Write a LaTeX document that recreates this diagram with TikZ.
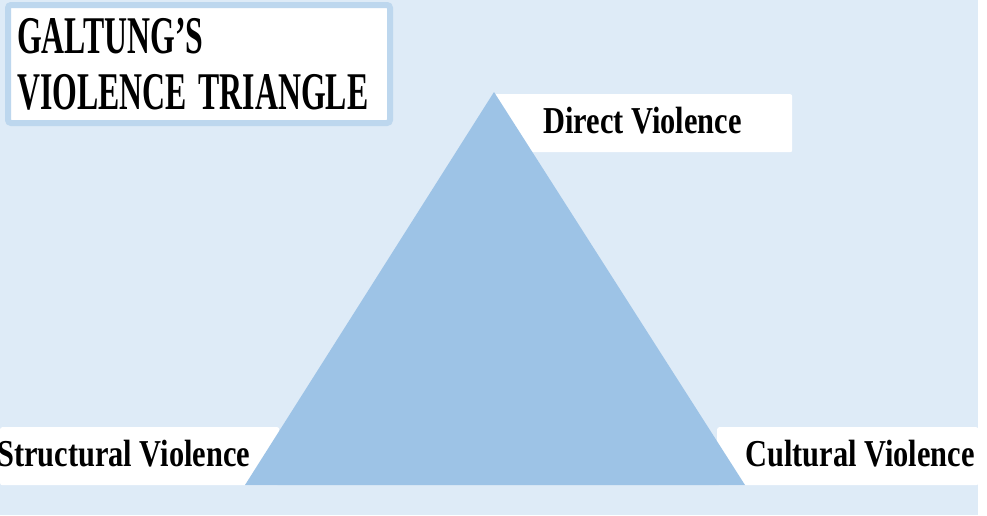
\documentclass[tikz,border=0pt]{standalone}
\usepackage{xcolor}
\usepackage{fontspec}
\usepackage{tikz}
\usetikzlibrary{positioning}
\newfontfamily\labelfont[FakeStretch=0.8]{Liberation Serif}
\newfontfamily\titlefont[FakeStretch=0.6]{Liberation Serif}
\definecolor{bgblue}{HTML}{DEEBF7}
\definecolor{triblue}{HTML}{9DC3E6}
\definecolor{frameblue}{HTML}{BDD7EE}
\tikzset{
    labelbox/.style={fill=white, rounded corners=2pt, inner sep=0pt, anchor=north west},
    labeltext/.style={anchor=base west, inner sep=0pt, font=\labelfont\bfseries\fontsize{38}{40}\selectfont},
    titletext/.style={anchor=base west, inner sep=0pt, font=\titlefont\bfseries\fontsize{53}{56}\selectfont}
}

\begin{document}
\begin{tikzpicture}[x=1pt, y=-1pt]
        \useasboundingbox (0,0) rectangle (987,515);

        %BACKGROUND
        \fill[bgblue] (0,0) rectangle (978,515);

        %TITLE
        \draw[frameblue, line width=6pt, fill=white, rounded corners=3pt] (8,5) rectangle (390,123);
        \node[titletext] (title1) at (17,53) {GALTUNG’S};
        \node[titletext] (title2) at (17,109) {VIOLENCE\hspace{4pt} TRIANGLE};

        %LABEL BOXES
        \node[labelbox, minimum width=298pt, minimum height=58pt] (directbox) at (494,94) {};
        \node[labelbox, minimum width=279pt, minimum height=58pt] (structbox) at (0,427) {};
        \node[labelbox, minimum width=261pt, minimum height=58pt] (culturebox) at (717,427) {};

        %TRIANGLE
        \coordinate (apex) at (494,92);
        \coordinate (baseL) at (245,485);
        \coordinate (baseR) at (745,485);
        \fill[triblue] (apex) -- (baseL) -- (baseR) -- cycle;

        %LABEL
        \node[labeltext] (direct) at (543,133) {Direct Violence};
        \node[labeltext] (struct) at (-3,466) {Structural Violence};
        \node[labeltext] (culture) at (745,466) {Cultural Violence};
\end{tikzpicture}
\end{document}
